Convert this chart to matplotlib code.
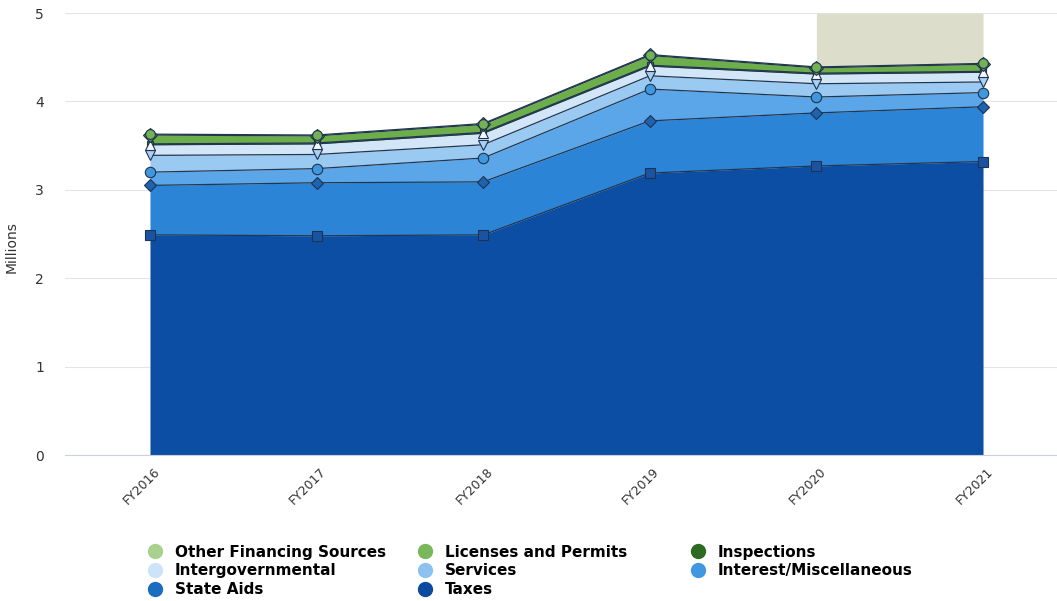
import numpy as np
import matplotlib.pyplot as plt
import matplotlib.transforms as mtransforms
from matplotlib.lines import Line2D


years = ["FY2016", "FY2017", "FY2018", "FY2019", "FY2020", "FY2021"]

# stacked bottom -> top, values in millions
taxes = [2.49, 2.48, 2.49, 3.19, 3.27, 3.32]
state_aids = [0.56, 0.60, 0.60, 0.59, 0.60, 0.62]
interest_misc = [0.15, 0.16, 0.27, 0.36, 0.18, 0.16]
services = [0.19, 0.16, 0.15, 0.15, 0.15, 0.12]
intergovernmental = [0.12, 0.12, 0.13, 0.11, 0.11, 0.11]
inspections = [0.01, 0.01, 0.01, 0.01, 0.01, 0.01]
licenses_permits = [0.10, 0.08, 0.09, 0.11, 0.06, 0.08]
other_financing = [0.01, 0.01, 0.01, 0.01, 0.01, 0.01]

series_names = ["Taxes", "State Aids", "Interest/Miscellaneous", "Services",
                "Intergovernmental", "Inspections", "Licenses and Permits",
                "Other Financing Sources"]
series_values = [taxes, state_aids, interest_misc, services,
                 intergovernmental, inspections, licenses_permits, other_financing]
area_colors = ["#0b4ea4", "#2b84d6", "#5aa6e8", "#9acaf2",
               "#d2e6f8", "#2f6b22", "#6cae4a", "#a9d18e"]
marker_colors = ["#1b53a3", "#1e62b0", "#3f98de", "#a9d1f3",
                 "#f4f8fc", "#3d7d2a", "#5f9e3f", "#74b055"]
legend_colors = ["#0b4a9e", "#1c6cc0", "#3f98e0", "#8dc2f0",
                 "#cde3f7", "#2d6a22", "#78b75a", "#a9d18e"]
markers = ["s", "D", "o", "v", "^", "s", "D", "o"]
marker_sizes = [7.5, 6.5, 7.5, 7.5, 7.5, 5, 7.5, 7]
marker_z = [10, 11, 12, 13, 14, 5, 15, 16]

x = np.arange(len(years))
tops = np.cumsum(np.array(series_values), axis=0)

fig = plt.figure(figsize=(10.57, 6.01), dpi=100)
ax = fig.add_axes([0.0615, 0.2429, 0.9385, 0.7354])

# highlighted region above the stack (FY2020 - FY2021)
ax.fill_between(x[4:], tops[-1][4:], 5, color="#dcdecb", zorder=1, lw=0)

bottom = np.zeros(len(years))
for i in range(len(series_names)):
    ax.fill_between(x, bottom, tops[i], color=area_colors[i], lw=0, zorder=2)
    ax.plot(x, tops[i], color="#22364f", lw=0.9, zorder=3)
    bottom = tops[i]

for i in range(len(series_names)):
    ax.plot(x, tops[i], ls="none", marker=markers[i], markersize=marker_sizes[i],
            markerfacecolor=marker_colors[i], markeredgecolor="#1e3350",
            markeredgewidth=0.8, zorder=marker_z[i])

ax.set_xlim(-0.51, 5.444)
ax.set_ylim(0, 5)
ax.set_yticks(np.arange(0, 6, 1))
ax.yaxis.grid(True, color="#e4e4e4", lw=0.8)
ax.set_axisbelow(True)
for side in ["top", "right", "left"]:
    ax.spines[side].set_visible(False)
ax.spines["bottom"].set_color("#c9d3e0")
ax.tick_params(axis="both", length=0, colors="#333333")
ax.tick_params(axis="y", labelsize=10, pad=15)
ax.set_ylabel("Millions", fontsize=10, color="#333333", labelpad=4)
ax.yaxis.set_label_coords(-0.047, 0.47)

ax.set_xticks(x)
ax.set_xticklabels(years, rotation=45, ha="right", rotation_mode="anchor",
                   fontsize=9, color="#333333")
offset = mtransforms.ScaledTranslation(0.03, -0.05, fig.dpi_scale_trans)
for lbl in ax.get_xticklabels():
    lbl.set_transform(lbl.get_transform() + offset)

# legend, row-wise like the original (top series first), one legend per column
legend_columns = [[7, 4, 1], [6, 3, 0], [5, 2]]
column_x = [0.1394, 0.3949, 0.6532]
for col, cx in zip(legend_columns, column_x):
    handles = [Line2D([], [], ls="none", marker="o", markersize=10,
                      markerfacecolor=legend_colors[k], markeredgecolor=legend_colors[k])
               for k in col]
    labels = [series_names[k] for k in col]
    fig.legend(handles, labels, loc="upper left", bbox_to_anchor=(cx, 0.094),
               frameon=False, handletextpad=0.8, handlelength=1.0, labelspacing=0.25,
               prop={"weight": "bold", "size": 11}, borderpad=0, borderaxespad=0)

fig.savefig("out.png", dpi=100)
